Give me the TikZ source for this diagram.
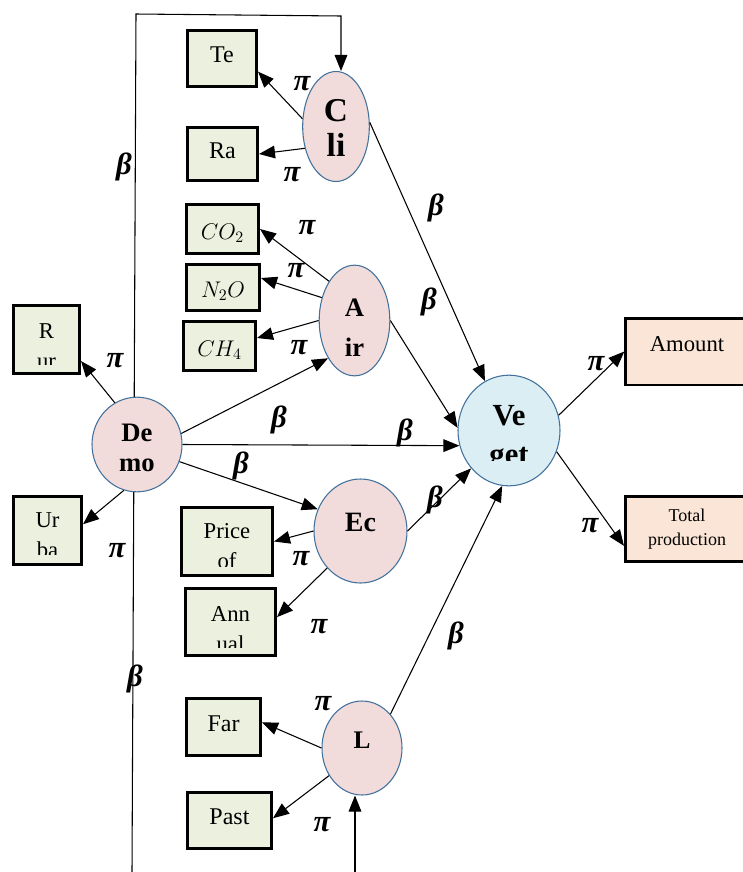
\RequirePackage{fix-cm}
\documentclass[tikz,border=0pt]{standalone}
\usepackage{fontspec}
\setmainfont{Liberation Serif}
\usetikzlibrary{arrows.meta, shapes.geometric, backgrounds}
\definecolor{ovalfill}{HTML}{F2DCDB}
\definecolor{ovalline}{HTML}{41719C}
\definecolor{vegfill}{HTML}{DAEEF3}
\definecolor{cellfill}{HTML}{EBF1DE}
\definecolor{outfill}{HTML}{FBE5D6}
\tikzset{
  arr/.style={-{Triangle[length=12pt,width=9.5pt]}, line width=0.8pt},
  soft/.style={ellipse, draw=ovalline, line width=0.8pt, fill=ovalfill, inner sep=0pt},
  frame/.style={draw, line width=2pt, inner sep=0pt},
  cell/.style={frame, fill=cellfill, font=\fontsize{18}{22}\selectfont, text height=12pt, text depth=6pt},
  mathcell/.style={frame, fill=cellfill, font=\fontsize{17}{20}\selectfont, text height=18pt, text depth=3pt},
  outcell/.style={frame, fill=outfill},
  celltxt/.style={align=center, inner sep=0pt, font=\fontsize{17}{22.5}\selectfont},
  ovaltxt/.style={align=center, inner sep=0pt},
  coef/.style={inner sep=0pt, font=\bfseries\itshape\fontsize{23}{26}\selectfont}
}
\begin{document}
\begin{tikzpicture}[x=0.75pt, y=-0.75pt]
  \useasboundingbox (0,0) rectangle (743,872);
  % latent variables
  \node[soft, minimum width=50pt, minimum height=82.5pt] (Cli) at (336,126.5) {};
  \node[soft, minimum width=53pt, minimum height=83pt] (Air) at (354.5,320.5) {};
  \node[soft, minimum width=67.5pt, minimum height=71pt] (Demo) at (137,444.5) {};
  \node[soft, fill=vegfill, minimum width=76.5pt, minimum height=83pt] (Veget) at (509,430.5) {};
  \node[soft, minimum width=69.75pt, minimum height=78pt, font=\bfseries\fontsize{21}{24}\selectfont,
        text height=14pt, text depth=14pt] (Ec) at (360.5,531) {Ec};
  \node[soft, minimum width=60pt, minimum height=70.5pt, font=\bfseries\fontsize{19}{22}\selectfont,
        text height=13pt, text depth=13pt] (L) at (362,748) {L};
  \node[ovaltxt, font=\bfseries\fontsize{25}{26.25}\selectfont] (Cli-t) at (336,128.2) {C\\li};
  \node[ovaltxt, font=\bfseries\fontsize{20}{30}\selectfont] (Air-t) at (354.5,328) {A\\ir};
  \node[ovaltxt, font=\bfseries\fontsize{20}{22.5}\selectfont] (Demo-t) at (137,448) {De\\mo};
  \begin{scope}
    \clip (460,376) rectangle (558,460);
    \node[ovaltxt, font=\bfseries\fontsize{23}{29.25}\selectfont] (Veget-t) at (509,438.5) {Ve\\get};
  \end{scope}

  % indicators
  \node[cell, minimum width=52pt, minimum height=42pt] (Te) at (222,58.5) {Te};
  \node[cell, minimum width=52.75pt, minimum height=40pt] (Ra) at (222.5,154) {Ra};
  \node[mathcell, minimum width=54.25pt, minimum height=37pt] (CO2) at (222.5,229) {$CO_2$};
  \node[mathcell, minimum width=55pt, minimum height=34.75pt] (N2O) at (223,287.5) {$N_2O$};
  \node[mathcell, minimum width=54.25pt, minimum height=37pt] (CH4) at (219.5,346) {$CH_4$};
  \node[cell, minimum width=49.75pt, minimum height=51.25pt] (Rur) at (46.5,339.5) {};
  \node[cell, minimum width=51.25pt, minimum height=51.25pt] (Urba) at (47.5,530.5) {};
  \node[cell, minimum width=68.5pt, minimum height=51.25pt] (Price) at (227,541.5) {};
  \node[cell, minimum width=67.75pt, minimum height=50.5pt] (Annual) at (230.5,622) {};
  \node[cell, minimum width=55.75pt, minimum height=43pt] (Far) at (223.5,727) {Far};
  \node[cell, minimum width=63.25pt, minimum height=42.25pt] (Past) at (229.5,820.5) {Past};
  \node[outcell, minimum width=92pt, minimum height=50pt, font=\fontsize{17}{20}\selectfont,
        text height=12pt, text depth=12pt] (Amount) at (687,351.5) {Amount};
  \node[outcell, minimum width=92.5pt, minimum height=49pt, align=center,
        font=\fontsize{13.5}{18}\selectfont] (Total) at (687,529) {Total\\production};
  \begin{scope}
    \clip (14,306) rectangle (79,364);
    \node[celltxt] (Rur-t) at (46.5,346.5) {R\\ur};
  \end{scope}
  \begin{scope}
    \clip (16,497) rectangle (81,554);
    \node[celltxt] (Urba-t) at (47.5,535.5) {Ur\\ba};
  \end{scope}
  \begin{scope}
    \clip (182,508) rectangle (272,566);
    \node[celltxt] (Price-t) at (227,546.5) {Price\\of};
  \end{scope}
  \begin{scope}
    \clip (186,589) rectangle (275,647);
    \node[celltxt] (Annual-t) at (230.5,629.5) {Ann\\ual};
  \end{scope}

  % paths
  \draw[arr] (Cli.167) -- (Te.-20);
  \draw[arr] (Cli.215) -- (Ra.east);
  \draw[arr] (Cli.7) -- (Veget.116);
  \draw[arr] (Air.123) -- (CO2.east);
  \draw[arr] (Air.145) -- (N2O.14);
  \draw[arr] (Air.180) -- (CH4.12);
  \draw[arr] (Air.east) -- (Veget.177);
  \draw[arr] (Demo.14) -- (Air.235);
  \draw[arr] (Demo.east) -- (Veget.197);
  \draw[arr] (Demo.338) -- (Ec.153);
  \draw[arr] (Demo.118) -- (Rur.-32);
  \draw[arr] (Demo.254) -- (Urba.10);
  \draw[arr] (Ec.west) -- (Price.east);
  \draw[arr] (Ec.228) -- (Annual.6);
  \draw[arr] (Ec.east) -- (Veget.225);
  \draw[arr] (L.50) -- (Veget.263);
  \draw[arr] (L.west) -- (Far.7);
  \draw[arr] (L.220) -- (Past.3);
  \draw[arr] (Veget.17) -- (Amount.west);
  \draw[arr] (Veget.336) -- (Total.195);
  \begin{pgfonlayer}{background}
    \coordinate (Bot) at (132,872);
    \coordinate (TopL) at (136,14);
    \coordinate (TopR) at (341,16);
    \coordinate (Lin) at (355,872);
    \draw[arr] (Bot) -- (TopL) -- (TopR) -- (TopR |- Cli.north);
    \draw[arr] (Lin) -- (Lin |- L.south);
  \end{pgfonlayer}

  % coefficients
  \node[coef] (piTe) at (302,84) {π};
  \node[coef] (piRa) at (292,175) {π};
  \node[coef] (piCO2) at (307,228) {π};
  \node[coef] (piN2O) at (296,271) {π};
  \node[coef] (piCH4) at (299,348) {π};
  \node[coef] (piRur) at (115,361) {π};
  \node[coef] (piUrba) at (117,551) {π};
  \node[coef] (piPrice) at (301,559) {π};
  \node[coef] (piAnnual) at (319,627) {π};
  \node[coef] (piFar) at (323,704) {π};
  \node[coef] (piPast) at (322,825) {π};
  \node[coef] (piAmount) at (596,364) {π};
  \node[coef] (piTotal) at (590,526) {π};
  \node[coef] (betaTop) at (124,167) {β};
  \node[coef] (betaBot) at (135,679) {β};
  \node[coef] (betaCli) at (436,208) {β};
  \node[coef] (betaAir) at (429,302) {β};
  \node[coef] (betaDA) at (279,420) {β};
  \node[coef] (betaDV) at (405,433) {β};
  \node[coef] (betaDE) at (241,466) {β};
  \node[coef] (betaEc) at (435,500) {β};
  \node[coef] (betaL) at (456,636) {β};
\end{tikzpicture}
\end{document}
